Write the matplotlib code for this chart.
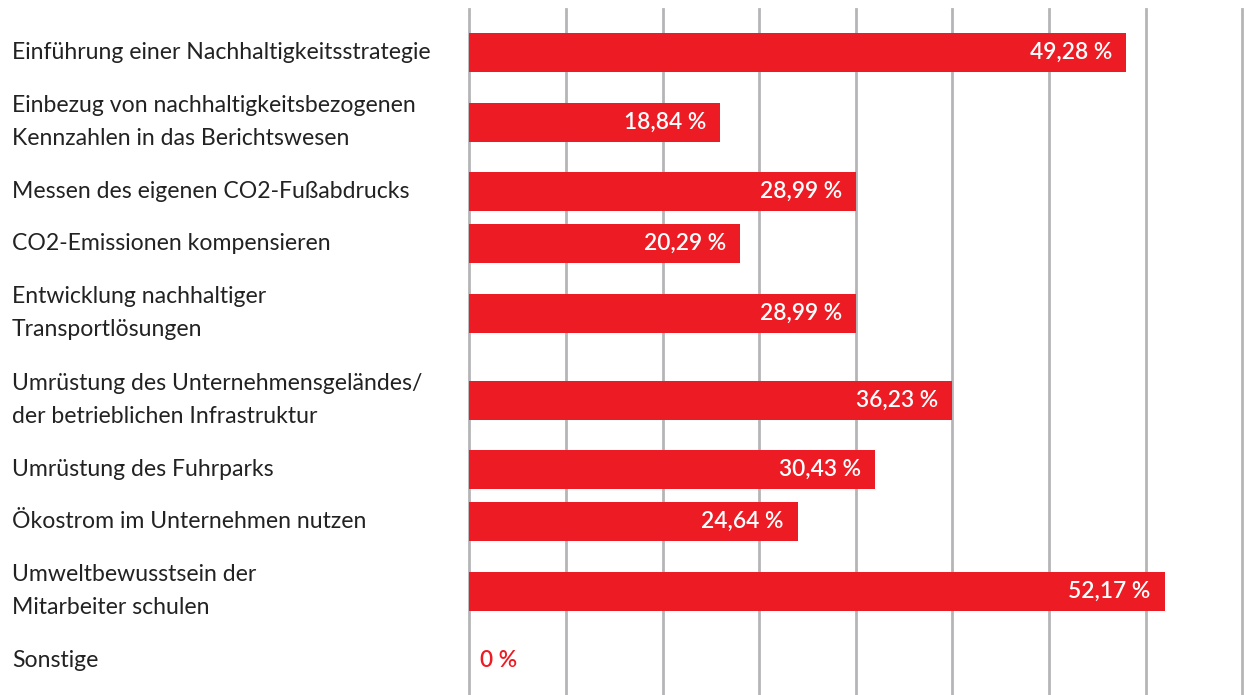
import matplotlib
matplotlib.use("Agg")
import matplotlib.pyplot as plt
import matplotlib.transforms as mtrans
import numpy as np

categories = [
    "Einführung einer Nachhaltigkeitsstrategie",
    "Einbezug von nachhaltigkeitsbezogenen\nKennzahlen in das Berichtswesen",
    "Messen des eigenen CO2-Fußabdrucks",
    "CO2-Emissionen kompensieren",
    "Entwicklung nachhaltiger\nTransportlösungen",
    "Umrüstung des Unternehmensgeländes/\nder betrieblichen Infrastruktur",
    "Umrüstung des Fuhrparks",
    "Ökostrom im Unternehmen nutzen",
    "Umweltbewusstsein der\nMitarbeiter schulen",
    "Sonstige",
]
values = [49.28, 18.84, 28.99, 20.29, 28.99, 36.23, 30.43, 24.64, 52.17, 0.0]
value_labels = ["49,28 %", "18,84 %", "28,99 %", "20,29 %", "28,99 %",
                "36,23 %", "30,43 %", "24,64 %", "52,17 %", "0 %"]

RED = "#ed1c24"
GRID = "#b5b5b8"
TXT = "#222222"
FONT = "Lato"
W, H, DPI = 1246, 695, 100

# vertical layout in pixels: rows with two-line labels get extra room
nlines = [c.count("\n") + 1 for c in categories]
ypos = [52.5]
for a, b in zip(nlines[:-1], nlines[1:]):
    ypos.append(ypos[-1] + 52 + 17.5 * ((a - 1) + (b - 1)))

fig = plt.figure(figsize=(W / DPI, H / DPI), dpi=DPI)
x0, x1 = 469.3, 1242.3
ax = fig.add_axes([x0 / W, 0, (x1 - x0) / W, 1])
ax.set_xlim(0, 58)
ax.set_ylim(H, 0)
ax.axis("off")

for g in np.linspace(0, 58, 9):
    ax.plot([g, g], [9, H], color=GRID, lw=2.0, zorder=0, clip_on=False)

ax.barh(ypos, values, height=39, color=RED, zorder=2)

lab_tr = mtrans.blended_transform_factory(fig.transFigure, ax.transData)
for y, c in zip(ypos, categories):
    ax.text(12 / W, y, c, transform=lab_tr, ha="left", va="center",
            fontsize=16.6, family=FONT, color=TXT, linespacing=1.7)

px = 72 / DPI
for y, v, s in zip(ypos, values, value_labels):
    if v > 0:
        ax.annotate(s, (v, y), xytext=(-14 * px, 0), textcoords="offset points",
                    ha="right", va="center", fontsize=16.4, family=FONT,
                    fontweight="semibold", color="white", zorder=3)
    else:
        ax.annotate(s, (v, y), xytext=(11 * px, 0), textcoords="offset points",
                    ha="left", va="center", fontsize=16.4, family=FONT,
                    fontweight="semibold", color=RED, zorder=3)

fig.savefig("out.png", dpi=DPI)
